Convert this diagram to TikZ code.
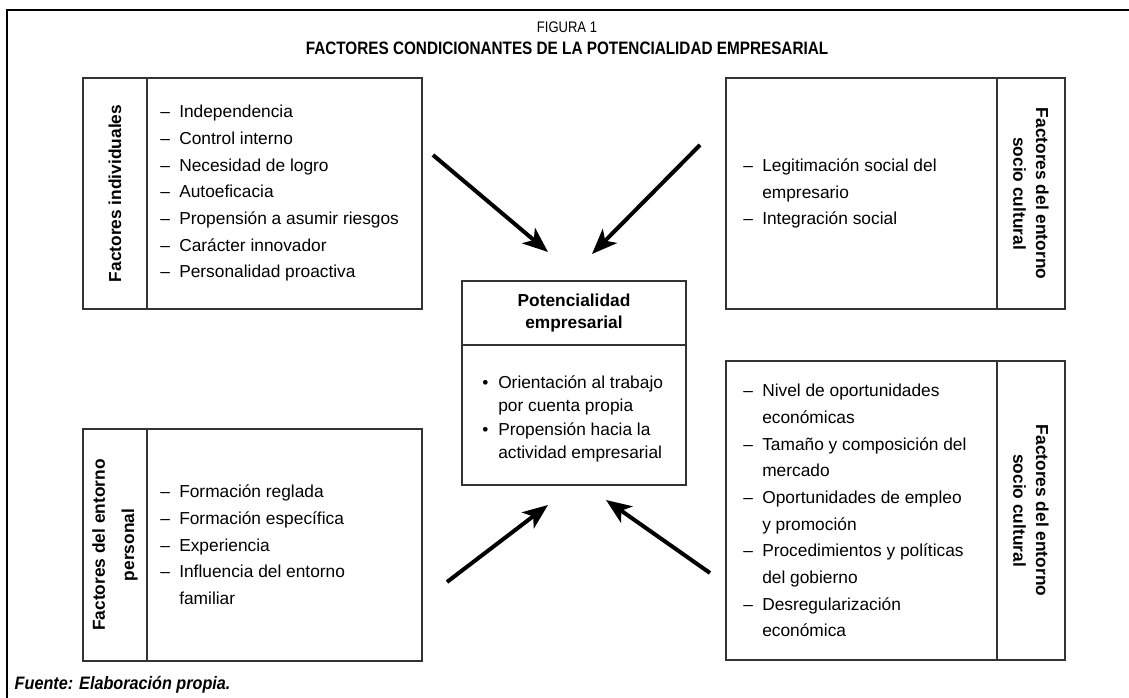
\documentclass[tikz,border=0pt]{standalone}
\usepackage{fontspec}
\setmainfont{Liberation Sans}
\newfontfamily\estrecha[FakeStretch=0.85]{Liberation Sans}
\newfontfamily\pie[FakeStretch=0.9]{Liberation Sans}
\usetikzlibrary{arrows.meta}

\newcommand{\guion}{\makebox[14.25pt][l]{–}}
\newcommand{\sigue}{\hspace*{14.25pt}}
\newcommand{\punto}{\makebox[12pt][l]{•}}

\tikzset{
  caja/.style={draw=black!80, line width=0.9pt, inner sep=0pt},
  etiqueta/.style={caja, align=center, font=\bfseries\fontsize{13}{17}\selectfont},
  lista/.style={anchor=west, align=left, inner sep=0pt, font=\fontsize{13}{20}\selectfont}
}

\begin{document}
\begin{tikzpicture}[x=0.75pt, y=-0.75pt]
\useasboundingbox (0,0) rectangle (1129,698);

% marco
\draw[line width=1pt] (7,698) -- (7,10) -- (1129,10);
\node (fig) at (567,27) {\estrecha\fontsize{11.5}{13}\selectfont FIGURA 1};
\node (tit) at (567,48) {\estrecha\bfseries\fontsize{13.5}{15}\selectfont FACTORES CONDICIONANTES DE LA POTENCIALIDAD EMPRESARIAL};
\node[anchor=west] (fte) at (10,685) {\pie\bfseries\itshape\fontsize{13.5}{15}\selectfont Fuente: Elaboración propia.};

\begin{scope}
    % individuales
    \node[etiqueta, rotate=90, minimum width=173.25pt, minimum height=48pt] (I) at (115,193.5) {Factores individuales};
    \node[caja, minimum width=206.25pt, minimum height=173.25pt] (i) at (284.5,193.5) {};
    \node[lista] (it) at (160,193.5) {\guion Independencia\\ \guion Control interno\\ \guion Necesidad de logro\\ \guion Autoeficacia\\ \guion Propensión a asumir riesgos\\ \guion Carácter innovador\\ \guion Personalidad proactiva};

    % socio cultural (arriba)
    \node[etiqueta, rotate=-90, minimum width=173.25pt, minimum height=51pt] (S) at (1031,193.5) {Factores del entorno\\socio cultural};
    \node[caja, minimum width=203.25pt, minimum height=173.25pt] (s) at (861.5,193.5) {};
    \node[lista] (st) at (743,193.5) {\guion Legitimación social del\\ \sigue empresario\\ \guion Integración social};

    % entorno personal
    \node[etiqueta, rotate=90, minimum width=174pt, minimum height=48pt, font=\bfseries\fontsize{13}{22}\selectfont] (P) at (115,545) {Factores del entorno\\personal};
    \node[caja, minimum width=206.25pt, minimum height=174pt] (p) at (284.5,545) {};
    \node[lista] (pt) at (160,545) {\guion Formación reglada\\ \guion Formación específica\\ \guion Experiencia\\ \guion Influencia del entorno\\ \sigue familiar};

    % socio cultural (abajo)
    \node[etiqueta, rotate=-90, minimum width=224.25pt, minimum height=51pt] (E) at (1031,510.5) {Factores del entorno\\socio cultural};
    \node[caja, minimum width=203.25pt, minimum height=224.25pt] (e) at (861.5,510.5) {};
    \node[lista] (et) at (743,510.5) {\guion Nivel de oportunidades\\ \sigue económicas\\ \guion Tamaño y composición del\\ \sigue mercado\\ \guion Oportunidades de empleo\\ \sigue y promoción\\ \guion Procedimientos y políticas\\ \sigue del gobierno\\ \guion Desregularización\\ \sigue económica};

    % potencialidad
    \node[etiqueta, minimum width=168pt, minimum height=48pt] (C) at (574,313) {Potencialidad\\empresarial};
    \node[caja, minimum width=168pt, minimum height=105pt] (c) at (574,415) {};
    \node[lista, font=\fontsize{13}{17.6}\selectfont] (ct) at (482,419) {\punto Orientación al trabajo\\ \hspace*{12pt}por cuenta propia\\ \punto Propensión hacia la\\ \hspace*{12pt}actividad empresarial};
\end{scope}

\coordinate (oI) at (433,155);
\coordinate (dI) at (548,252);
\coordinate (oS) at (700,145);
\coordinate (dS) at (592,254);
\coordinate (oP) at (447,582);
\coordinate (dP) at (548,505);
\coordinate (oE) at (710,573);
\coordinate (dE) at (606,500);

\begin{scope}[>={Stealth[length=19pt, width=15pt, inset=5pt]},
              every edge/.style={draw=black, line width=3pt}]
    \path [->] (oI) edge (dI);
    \path [->] (oS) edge (dS);
    \path [->] (oP) edge (dP);
    \path [->] (oE) edge (dE);
\end{scope}
\end{tikzpicture}
\end{document}
